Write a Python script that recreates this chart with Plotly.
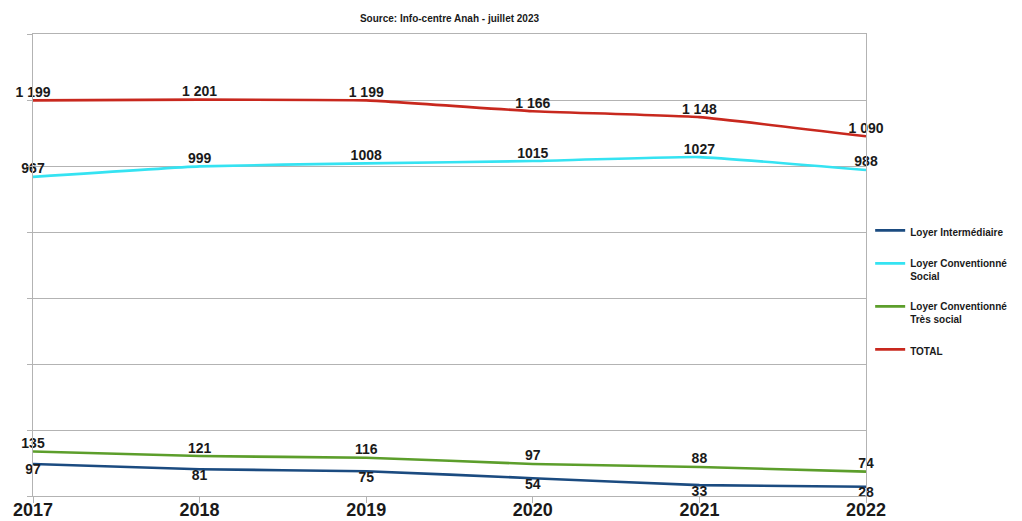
import plotly.graph_objects as go

years = [2017, 2018, 2019, 2020, 2021, 2022]

loyer_intermediaire = [97, 81, 75, 54, 33, 28]
loyer_social = [967, 999, 1008, 1015, 1027, 988]
loyer_tres_social = [135, 121, 116, 97, 88, 74]
total = [1199, 1201, 1199, 1166, 1148, 1090]

# value labels as printed (TOTAL uses a space as thousands separator)
total_labels = ["1 199", "1 201", "1 199", "1 166", "1 148", "1 090"]
social_labels = [str(v) for v in loyer_social]
tres_social_labels = [str(v) for v in loyer_tres_social]
intermediaire_labels = [str(v) for v in loyer_intermediaire]

series = [
    ("Loyer Intermédiaire", loyer_intermediaire, intermediaire_labels, "#1b4b80", "bottom center"),
    ("Loyer Conventionné<br>Social", loyer_social, social_labels, "#35e3f2", "top center"),
    ("Loyer Conventionné<br>Très social", loyer_tres_social, tres_social_labels, "#5c9e2b", "top center"),
    ("TOTAL", total, total_labels, "#c8281e", "top center"),
]

FONT = "Liberation Sans, Arial, sans-serif"

fig = go.Figure()
for i, (name, vals, labels, color, pos) in enumerate(series):
    fig.add_trace(go.Scatter(
        x=years, y=vals, name=name, mode="lines+text",
        text=labels, textposition=pos,
        textfont=dict(family=FONT, size=14, color="#1a1a1a", weight="bold"),
        line=dict(color=color, width=2.6, shape="spline", smoothing=0.35),
        cliponaxis=False, legendgroup=f"g{i}",
    ))

fig.update_layout(
    width=1022, height=521,
    margin=dict(l=33, r=156, t=34, b=25, autoexpand=False),
    paper_bgcolor="white", plot_bgcolor="white",
    font=dict(family=FONT, color="#1a1a1a"),
    title=dict(
        text="<b>Source: Info-centre Anah - juillet 2023</b>",
        x=0.5, xref="paper", xanchor="center",
        y=1 - 18 / 521, yanchor="middle",
        font=dict(family=FONT, size=10, color="#1a1a1a"),
    ),
    legend=dict(
        x=1.005, xanchor="left", y=0.603, yanchor="top",
        font=dict(family=FONT, size=10, color="#1a1a1a", weight="bold"),
        tracegroupgap=14, valign="top", bgcolor="rgba(0,0,0,0)",
    ),
    showlegend=True,
)

fig.update_xaxes(
    range=[2017, 2022], tickvals=years, ticktext=[str(y) for y in years],
    showgrid=False, zeroline=False, automargin=False,
    showline=True, linecolor="#b3b3b3", linewidth=1, mirror=True,
    ticks="outside", ticklen=6, tickcolor="#b3b3b3",
    ticklabelstandoff=-9,
    tickfont=dict(family=FONT, size=18, color="#1a1a1a", weight="bold"),
)
fig.update_yaxes(
    range=[0, 1400], dtick=200, showticklabels=False, automargin=False,
    showgrid=True, gridcolor="#b3b3b3", gridwidth=1, zeroline=False,
    showline=True, linecolor="#b3b3b3", linewidth=1, mirror=True,
    ticks="outside", ticklen=5, tickcolor="#b3b3b3",
)

fig.write_html("out.html")
